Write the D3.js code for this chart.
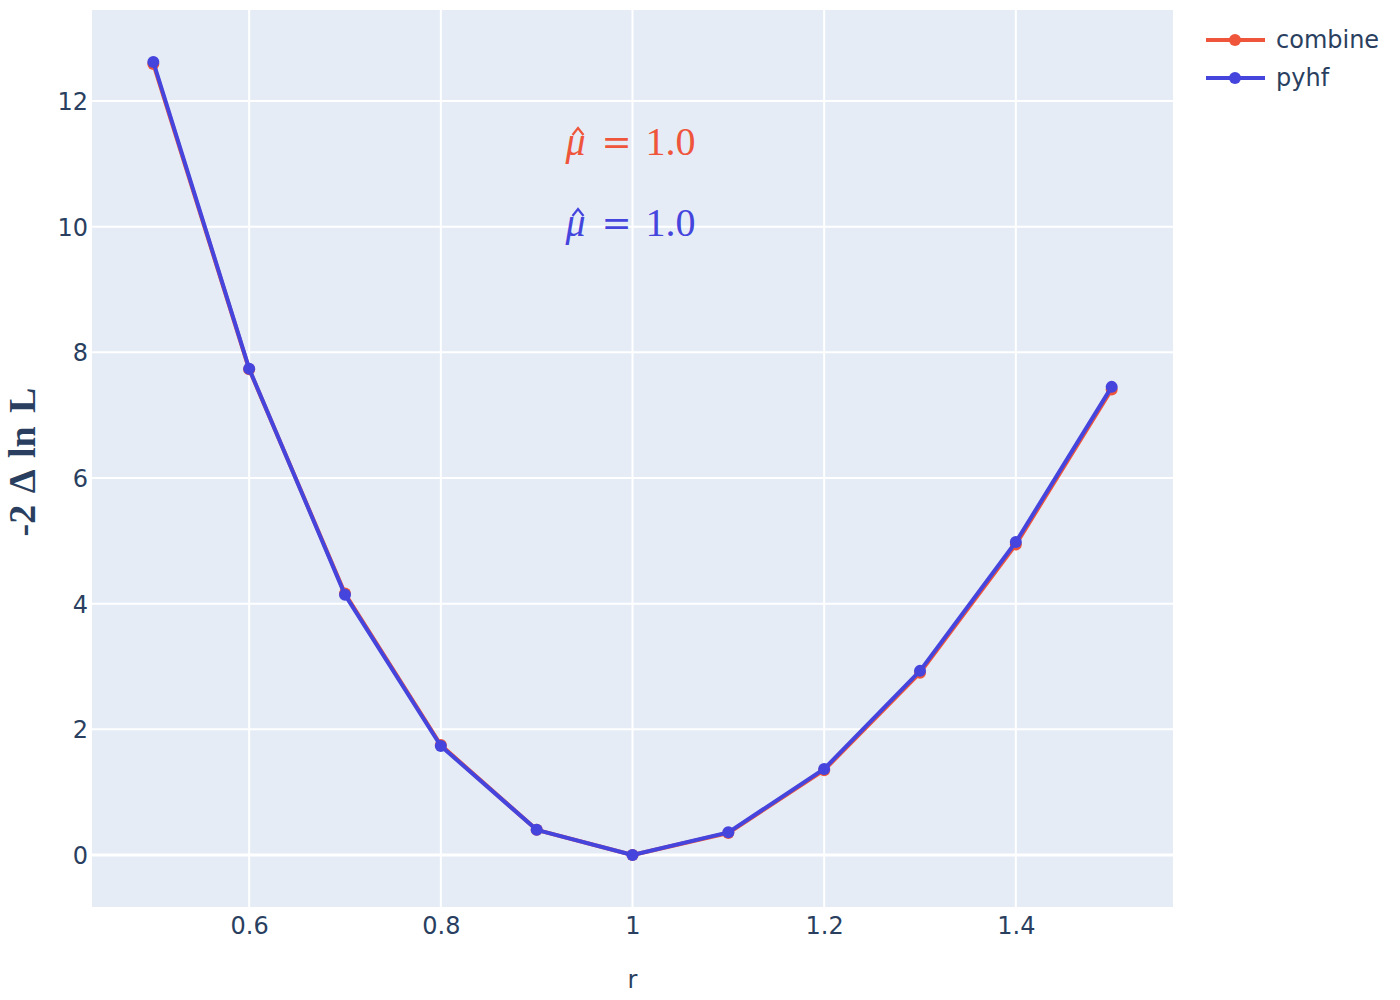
<!DOCTYPE html>
<html><head><meta charset="utf-8">
<script src="https://cdn.jsdelivr.net/npm/d3@7"></script>
<style>body{margin:0;background:#fff;} text{font-family:"DejaVu Sans",sans-serif;}</style>
</head><body>
<svg id="c" width="1400" height="1000"></svg>
<script>
const rValues = [0.5,0.6,0.7,0.8,0.9,1.0,1.1,1.2,1.3,1.4,1.5];
const combineValues = [12.59,7.73,4.16,1.75,0.40,0.0,0.35,1.35,2.90,4.94,7.41];
const pyhfValues = [12.62,7.74,4.14,1.735,0.40,0.0,0.36,1.37,2.93,4.98,7.45];
const seriesNames = ["combine","pyhf"];
const seriesColors = ["#EF553B","#4545DD"];
const xTicks = [0.6,0.8,1.0,1.2,1.4];
const xTickLabels = ["0.6","0.8","1","1.2","1.4"];
const yTicks = [0,2,4,6,8,10,12];
const annotations = ["1.0","1.0"];

const svg = d3.select("#c");
const L=92,R=1173,T=10,B=907;
const x = d3.scaleLinear().domain([0.436,1.564]).range([L,R]);
const y = d3.scaleLinear().domain([-0.828,13.448]).range([B,T]);
const SERIF = "'Liberation Serif','DejaVu Serif',serif";

svg.append("rect").attr("x",L).attr("y",T).attr("width",R-L).attr("height",B-T).attr("fill","#E5ECF6");

const g = svg.append("g");
xTicks.forEach(t=>g.append("line").attr("x1",x(t)).attr("x2",x(t)).attr("y1",T).attr("y2",B).attr("stroke","#fff").attr("stroke-width",2));
yTicks.forEach(t=>g.append("line").attr("x1",L).attr("x2",R).attr("y1",y(t)).attr("y2",y(t)).attr("stroke","#fff").attr("stroke-width",t===0?3:2));

const xAxis = d3.axisBottom(x).tickValues(xTicks).tickFormat((d,i)=>xTickLabels[i]).tickSize(0).tickPadding(0);
const xa = svg.append("g").attr("transform",`translate(0,${B})`).call(xAxis);
xa.select(".domain").remove();
xa.selectAll("text").attr("font-size",24).attr("fill","#2a3f5f").attr("font-family","DejaVu Sans").attr("dy",null).attr("y",27);

const yAxis = d3.axisLeft(y).tickValues(yTicks).tickFormat(d3.format("d")).tickSize(0).tickPadding(0);
const ya = svg.append("g").attr("transform",`translate(${L-4},0)`).call(yAxis);
ya.select(".domain").remove();
ya.selectAll("text").attr("font-size",24).attr("fill","#2a3f5f").attr("font-family","DejaVu Sans").attr("dy","0.35em").attr("x",0);

svg.append("text").attr("x",(L+R)/2).attr("y",988).attr("text-anchor","middle").attr("font-size",24).attr("fill","#2a3f5f").text("r");

svg.append("text").attr("transform","translate(35,462) rotate(-90)").attr("text-anchor","middle")
  .style("font-family",SERIF).style("word-spacing","4px").attr("font-size",38).attr("fill","#2a3f5f").attr("font-weight","bold")
  .text("-2 Δ ln L");

const data = [combineValues,pyhfValues];
const line = d3.line().x((d,i)=>x(rValues[i])).y(d=>y(d));
data.forEach((vals,k)=>{
  const sg = svg.append("g");
  sg.append("path").datum(vals).attr("d",line).attr("fill","none").attr("stroke",seriesColors[k]).attr("stroke-width",4).attr("stroke-linejoin","round");
  sg.selectAll("circle").data(vals).join("circle").attr("cx",(d,i)=>x(rValues[i])).attr("cy",d=>y(d)).attr("r",6).attr("fill",seriesColors[k]);
});

// annotations "μ̂ = 1.0"
const ax = x(1.0);
[0,1].forEach(k=>{
  const base = [155,236][k];
  const col = seriesColors[k];
  const ag = svg.append("g").attr("fill",col);
  ag.append("text").attr("x",ax-67).attr("y",base).style("font-family",SERIF).style("font-style","italic").attr("font-size",40).text("μ");
  ag.append("path").attr("d",`M${ax-60},${base-20} L${ax-54.5},${base-27} L${ax-49},${base-20}`)
    .attr("fill","none").attr("stroke",col).attr("stroke-width",2.2).attr("stroke-linejoin","miter");
  ag.append("text").attr("x",ax-31).attr("y",base-1).style("font-family","'DejaVu Serif',serif").attr("font-size",36).text("=");
  ag.append("text").attr("x",ax+13).attr("y",base).style("font-family",SERIF).attr("font-size",40).text(annotations[k]);
});

seriesNames.forEach((n,k)=>{
  const yy = [40,78][k];
  svg.append("line").attr("x1",1206).attr("x2",1265).attr("y1",yy).attr("y2",yy).attr("stroke",seriesColors[k]).attr("stroke-width",4);
  svg.append("circle").attr("cx",1235).attr("cy",yy).attr("r",6).attr("fill",seriesColors[k]);
  svg.append("text").attr("x",1276).attr("y",yy).attr("dy","0.35em").attr("font-size",24).attr("fill","#2a3f5f").text(n);
});
</script></body></html>
